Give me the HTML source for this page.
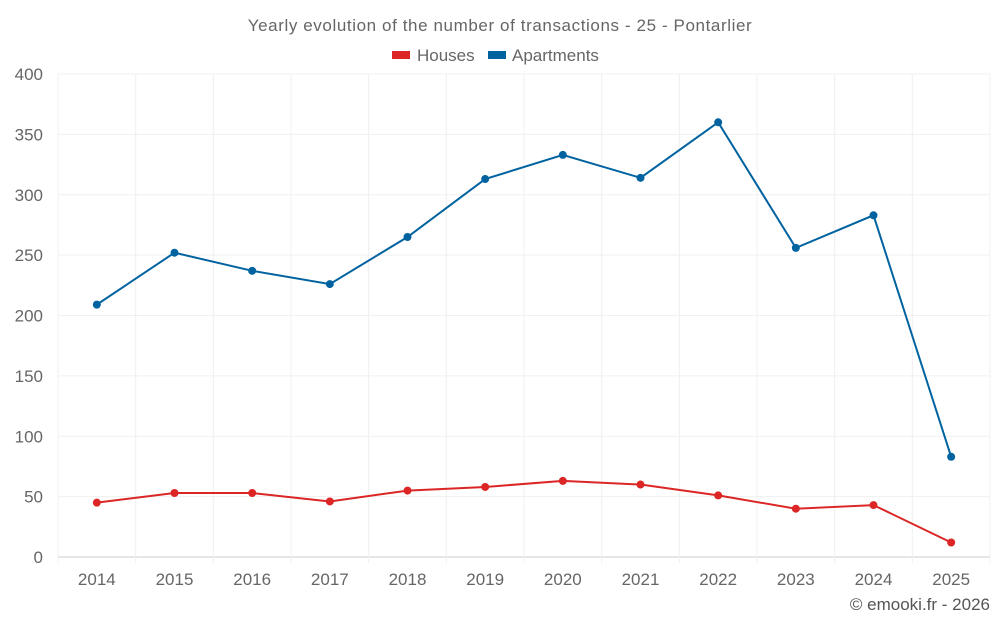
<!DOCTYPE html>
<html><head><meta charset="utf-8"><style>
body{margin:0;background:#fff;font-family:"Liberation Sans",sans-serif}
svg text{font-family:"Liberation Sans",sans-serif}
</style></head><body>
<svg id="chart" width="1000" height="625">
<text x="500" y="31" text-anchor="middle" font-size="17" letter-spacing="0.6" fill="#666">Yearly evolution of the number of transactions - 25 - Pontarlier</text>
<g>
<g><rect x="392" y="51" width="18" height="8" fill="#dc2626"/><text x="417" y="61" font-size="17" fill="#666">Houses</text></g>
<g><rect x="488" y="51" width="18" height="8" fill="#0063a0"/><text x="512" y="61" font-size="17" fill="#666">Apartments</text></g>
</g>
<g id="grid"></g><g id="axes"></g><g id="series"></g>
<text x="990" y="610" text-anchor="end" font-size="17" fill="#555">© emooki.fr - 2026</text>
</svg>
<script>
const years=["2014","2015","2016","2017","2018","2019","2020","2021","2022","2023","2024","2025"];
const houses=[45,53,53,46,55,58,63,60,51,40,43,12];
const apartments=[209,252,237,226,265,313,333,314,360,256,283,83];
const yTicks=[0,50,100,150,200,250,300,350,400];
const L=58,R=990,T=74,B=557,yMax=400;
const NS="http://www.w3.org/2000/svg";
const bw=(R-L)/years.length;
const xs=i=>L+bw*(i+0.5);
const ys=v=>B-(v/yMax)*(B-T);
function mk(t,a,p){const e=document.createElementNS(NS,t);for(const k in a)e.setAttribute(k,a[k]);p.appendChild(e);return e;}
const grid=document.getElementById('grid'),axes=document.getElementById('axes'),ser=document.getElementById('series');
yTicks.forEach(v=>{
const l=mk('line',{x1:L,x2:R,y1:ys(v),y2:ys(v),stroke:v===0?'#ccc':'#f0f0f0'},grid);


const t=mk('text',{x:L-15,y:ys(v)+6,'text-anchor':'end','font-size':17,fill:'#666'},axes);
t.textContent=v;


});
for(let i=0;i<=years.length;i++){
const l=mk('line',{x1:L+bw*i,x2:L+bw*i,y1:T,y2:B+6,stroke:'#f0f0f0'},grid);


}
years.forEach((y,i)=>{
const t=mk('text',{x:xs(i),y:585,'text-anchor':'middle','font-size':17,fill:'#666'},axes);
t.textContent=y;


});
function draw(data,color,name){
const p=mk('polyline',{points:data.map((v,i)=>xs(i)+','+ys(v)).join(' '),fill:'none',stroke:color,'stroke-width':2},ser);


data.forEach((v,i)=>{
const c=mk('circle',{cx:xs(i),cy:ys(v),r:4,fill:color},ser);


});
}
draw(apartments,'#0063a0','apartments');
draw(houses,'#dc2626','houses');
</script>
</body></html>
